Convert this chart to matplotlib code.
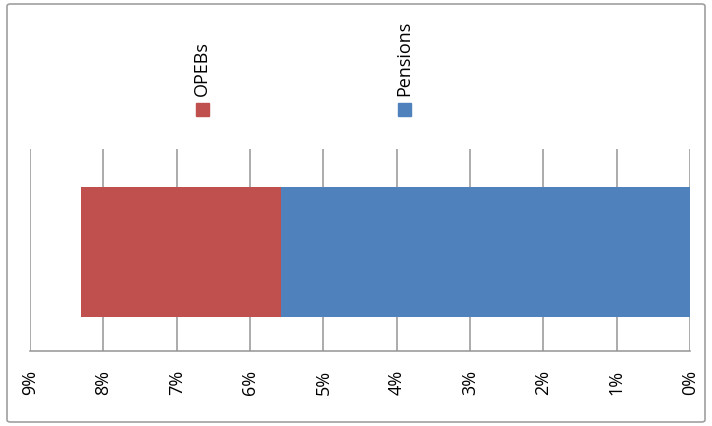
import matplotlib.pyplot as plt
from matplotlib.patches import Rectangle, FancyBboxPatch

# stacked shares, percent of payroll
series = ["Pensions", "OPEBs"]
values = [5.58, 2.72]
colors = ["#4f81bd", "#c0504d"]
ticks = [9, 8, 7, 6, 5, 4, 3, 2, 1, 0]
tick_labels = ["9%", "8%", "7%", "6%", "5%", "4%", "3%", "2%", "1%", "0%"]

plt.rcParams['font.family'] = ['Open Sans', 'DejaVu Sans']

fig = plt.figure(figsize=(7.12, 4.27), dpi=100)
ax = fig.add_axes([30 / 712, 1 - 352 / 427, 660 / 712, 202 / 427])

left = 0
for name, val, col in zip(series, values, colors):
    ax.barh(0, val, left=left, height=0.66, color=col, label=name, zorder=3)
    left += val

ax.set_xlim(9, 0)
ax.set_ylim(-0.5, 0.52)
ax.set_xticks(ticks)
ax.set_xticklabels(tick_labels, rotation=90, fontsize=13)
ax.set_yticks([])
ax.tick_params(axis='x', length=0, pad=13)
ax.grid(axis='x', color='#959595', linewidth=1.1, zorder=0)
for s in ['top', 'left', 'right']:
    ax.spines[s].set_visible(False)
ax.spines['bottom'].set_color('#959595')
ax.spines['bottom'].set_linewidth(1.1)

# legend drawn by hand: squares with vertical labels above the plot
legend_x = {"OPEBs": 202, "Pensions": 404}
for name, col in zip(series, colors):
    x = legend_x[name]
    fig.add_artist(Rectangle(((x - 6) / 712, 1 - 117 / 427), 13 / 712, 13 / 427,
                             transform=fig.transFigure, color=col))
    fig.text(x / 712, 1 - 96 / 427, name, rotation=90, ha='center', va='bottom',
             fontsize=13)

# chart outline
fig.add_artist(FancyBboxPatch((7 / 712, 4 / 427), 698 / 712, 418 / 427,
                              boxstyle='round,pad=0,rounding_size=0.005',
                              transform=fig.transFigure, fill=False,
                              edgecolor='#a0a0a0', linewidth=1.2))

fig.savefig('out.png', dpi=100)
